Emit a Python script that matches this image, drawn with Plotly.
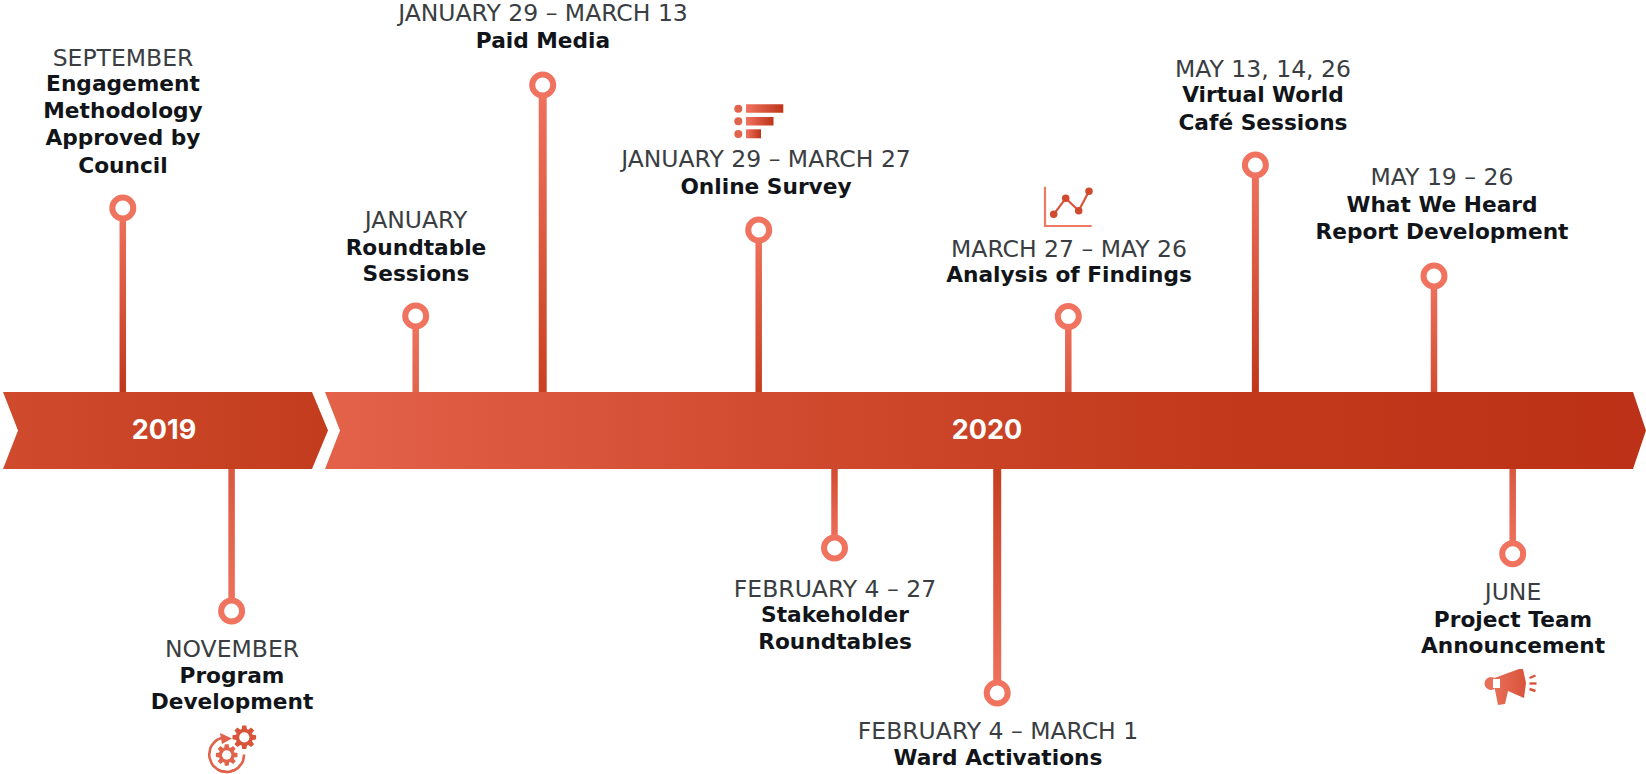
import math
import plotly.graph_objects as go

# ---- data -------------------------------------------------------------
years = ["2019", "2020"]
year_label_x = [164, 987]

event_names = ["Engagement Methodology Approved by Council", "Program Development", "Roundtable Sessions",
               "Paid Media", "Online Survey", "Stakeholder Roundtables", "Ward Activations",
               "Analysis of Findings", "Virtual World Café Sessions", "What We Heard Report Development",
               "Project Team Announcement"]
event_x = [122.8, 231.6, 415.7, 542.7, 758.7, 834.5, 997.2, 1068.3, 1255.4, 1434, 1512.7]
event_y = [208, 611, 316, 85, 230, 548, 693, 316.5, 165, 276, 553.7]
stem_w = [6.5, 6.5, 6.5, 8, 6.5, 6.5, 8, 6.5, 7, 6.5, 6.5]
stem_base = ["#C0361B", "#D9573F", "#E0634C", "#C8401F", "#C63D1E", "#D14B30", "#C63D1E",
             "#D9533A", "#C0361B", "#D14B30", "#D9573F"]

date_labels = ["SEPTEMBER", "NOVEMBER", "JANUARY", "JANUARY 29 – MARCH 13", "JANUARY 29 – MARCH 27",
               "FEBRUARY 4 – 27", "FEBRUARY 4 – MARCH 1", "MARCH 27 – MAY 26", "MAY 13, 14, 26",
               "MAY 19 – 26", "JUNE"]
date_x = [123, 232, 416, 543, 766, 835, 998, 1069, 1263, 1442, 1513]
date_y = [58, 649, 220, 13, 159, 589, 731, 249, 69, 177, 592]

title_labels = ["Engagement", "Methodology", "Approved by", "Council", "Program", "Development",
                "Roundtable", "Sessions", "Paid Media", "Online Survey", "Stakeholder", "Roundtables",
                "Ward Activations", "Analysis of Findings", "Virtual World", "Café Sessions",
                "What We Heard", "Report Development", "Project Team", "Announcement"]
title_x = [123, 123, 123, 123, 232, 232, 416, 416, 543, 766, 835, 835, 998, 1069, 1263, 1263,
           1442, 1442, 1513, 1513]
title_y = [83, 110, 137, 165, 675, 701, 247, 273, 40, 186, 614, 641, 757, 274, 94, 122, 204, 231, 619, 645]

INK = "#111418"
LIGHT = "#F0735F"
MID = "#D9533A"
DARK = "#BE3418"
BAND_TOP, BAND_BOTTOM = 392, 469
BAND_MID = (BAND_TOP + BAND_BOTTOM) / 2

fig = go.Figure()


def poly(xs, ys, color=None, grad=None, gtype="horizontal"):
    kw = dict(x=list(xs) + [xs[0]], y=list(ys) + [ys[0]], mode="lines", fill="toself",
              line=dict(width=0), hoverinfo="skip", showlegend=False)
    if grad:
        kw["fillgradient"] = dict(type=gtype, colorscale=[[i / (len(grad) - 1), c] for i, c in enumerate(grad)])
    else:
        kw["fillcolor"] = color
    fig.add_trace(go.Scatter(**kw))


def stroke(xs, ys, color, width):
    fig.add_trace(go.Scatter(x=xs, y=ys, mode="lines", line=dict(color=color, width=width),
                             hoverinfo="skip", showlegend=False))


def dots(xs, ys, color, size):
    fig.add_trace(go.Scatter(x=xs, y=ys, mode="markers", marker=dict(color=color, size=size, line=dict(width=0)),
                             hoverinfo="skip", showlegend=False))


def gear(cx, cy, r, color, teeth=8):
    xs, ys = [], []
    for i in range(teeth):
        a = 2 * math.pi * i / teeth
        step = 2 * math.pi / teeth
        for da, rr in [(-0.30, 0.72), (-0.17, 1), (0.17, 1), (0.30, 0.72)]:
            xs.append(cx + rr * r * math.cos(a + da * step * 1.3))
            ys.append(cy + rr * r * math.sin(a + da * step * 1.3))
    poly(xs, ys, color=color)
    dots([cx], [cy], "white", r * 0.85)


# stems
for x, y, w, base in zip(event_x, event_y, stem_w, stem_base):
    above = y < BAND_TOP
    edge = BAND_TOP + 2 if above else BAND_BOTTOM - 2
    grad = [base, LIGHT] if above else [LIGHT, base]
    poly([x - w / 2, x + w / 2, x + w / 2, x - w / 2], [y, y, edge, edge], grad=grad, gtype="vertical")

# year bands
poly([3, 312, 328, 312, 3, 18], [BAND_TOP, BAND_TOP, BAND_MID, BAND_BOTTOM, BAND_BOTTOM, BAND_MID],
     grad=["#D04A2E", "#C23C1D"])
poly([325, 1633, 1646, 1633, 325, 340], [BAND_TOP, BAND_TOP, BAND_MID, BAND_BOTTOM, BAND_BOTTOM, BAND_MID],
     grad=["#E36249", "#D14B30", "#C23A1B", "#BC3117"])

# stem circles
fig.add_trace(go.Scatter(x=event_x, y=event_y, mode="markers", text=event_names, hoverinfo="text",
                         marker=dict(size=21, color="white", line=dict(color=LIGHT, width=6)),
                         showlegend=False))

# survey icon
dots([738.3, 738.3, 738.3], [108.7, 121.3, 134], "#E0634C", 8)
poly([746, 783.3, 783.3, 746], [104.3, 104.3, 112.7, 112.7], grad=[LIGHT, DARK])
poly([746, 773.5, 773.5, 746], [117, 117, 125.5, 125.5], grad=[LIGHT, DARK])
poly([746, 761, 761, 746], [129.3, 129.3, 138.3, 138.3], grad=[LIGHT, DARK])

# trend icon
stroke([1045, 1045, 1091.7], [186.7, 226, 226], "#EE7A66", 2.2)
stroke([1053.7, 1065.7, 1078.7, 1089], [214.3, 198.3, 210.7, 191.3], "#D9533A", 2.2)
dots([1053.7, 1065.7, 1078.7, 1089], [214.3, 198.3, 210.7, 191.3], "#CF4A2E", 7.5)

# gears icon
gear(244.3, 737.3, 12, "#D9533A")
gear(226.7, 755, 11, "#E0634C")
arc = [math.radians(a) for a in range(-100, -310, -10)]
stroke([226.7 + 17.5 * math.cos(a) for a in arc], [754.5 + 17.5 * math.sin(a) for a in arc], "#E0634C", 2.6)
arc2 = [math.radians(a) for a in range(0, 130, 10)]
stroke([226.7 + 17.5 * math.cos(a) for a in arc2], [754.5 + 17.5 * math.sin(a) for a in arc2], "#E0634C", 2.6)
poly([220, 232, 222], [733, 738.5, 744], color="#E0634C")

# megaphone icon
poly([1493, 1519, 1523, 1526, 1524, 1519, 1508, 1505, 1498, 1495],
     [678.5, 669, 669, 683, 698, 696, 691, 704, 705, 690], grad=["#E8705A", "#D9533A"])
dots([1491], [683.5], "#E8705A", 13)
poly([1493, 1500, 1500, 1493], [679, 679, 688, 688], color="white")
stroke([1529.5, 1535.5], [678, 675.5], "#D9533A", 2.4)
stroke([1529.5, 1536.5], [683.5, 683.5], "#D9533A", 2.4)
stroke([1529.5, 1535.5], [689, 691], "#D9533A", 2.4)

# text
fig.add_trace(go.Scatter(x=date_x, y=[v + 2.5 for v in date_y], text=date_labels, mode="text",
                         textposition="middle center",
                         textfont=dict(family="DejaVu Sans", size=23.5, color="#3A3E42", weight=400),
                         hoverinfo="skip", showlegend=False))
fig.add_trace(go.Scatter(x=title_x, y=[v + 2.5 for v in title_y], text=title_labels, mode="text",
                         textposition="middle center",
                         textfont=dict(family="DejaVu Sans", size=21.7, color=INK, weight=700),
                         hoverinfo="skip", showlegend=False))
fig.add_trace(go.Scatter(x=year_label_x, y=[BAND_MID + 1.5, BAND_MID + 1.5], text=years, mode="text",
                         textposition="middle center",
                         textfont=dict(family="Inter", size=27, color="white", weight=700),
                         hoverinfo="skip", showlegend=False))

fig.update_layout(width=1646, height=774, margin=dict(l=0, r=0, t=0, b=0),
                  paper_bgcolor="white", plot_bgcolor="white",
                  xaxis=dict(range=[0, 1646], visible=False, fixedrange=True),
                  yaxis=dict(range=[774, 0], visible=False, fixedrange=True),
                  showlegend=False)

fig.write_html("out.html", config={"displayModeBar": False},
               post_script="document.body.style.margin='0';document.body.style.overflow='hidden';")
